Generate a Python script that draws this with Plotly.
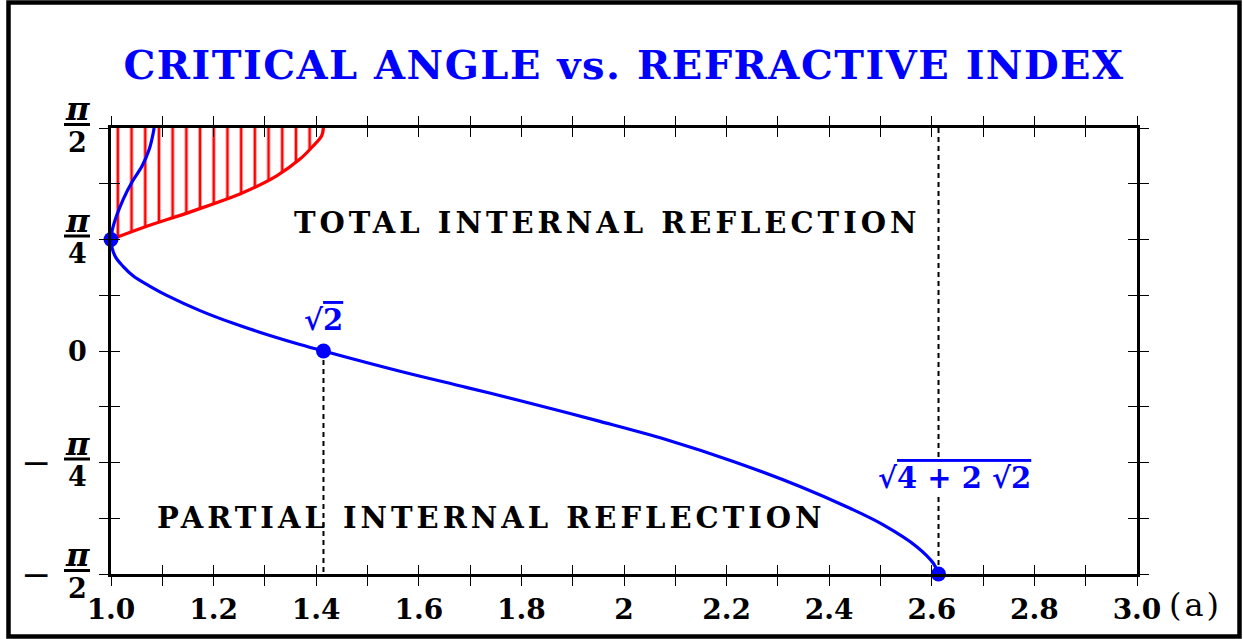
import numpy as np
import plotly.graph_objects as go

# critical angle curve (blue), from the top end downwards
blue_n = [1.084, 1.0825, 1.0747, 1.0608, 1.0404, 1.024, 1.0045, 1.0, 1.0078, 1.0240, 1.0435,
          1.0760, 1.1086, 1.1735, 1.2384, 1.3035, 1.3684, 1.4142, 1.5634, 1.6924, 1.80, 1.9532,
          2.0832, 2.2131, 2.3431, 2.4405, 2.5055, 2.5706, 2.6030, 2.6131]
blue_theta = [1.5708, 1.539, 1.4225, 1.3047, 1.1875, 1.0694, 0.8809, 0.7854, 0.669, 0.5945, 0.528,
              0.4553, 0.3918, 0.2845, 0.1948, 0.1166, 0.0459, 0.0, -0.1426, -0.2560, -0.3520, -0.4957,
              -0.6249, -0.7779, -0.9544, -1.1080, -1.2249, -1.3782, -1.4954, -1.5707]

# boundary of the hatched region (red)
red_n = [1.0, 1.063, 1.1604, 1.2579, 1.3230, 1.3684, 1.3944, 1.4107, 1.4142]
red_theta = [0.7854, 0.870, 0.987, 1.1168, 1.234, 1.3518, 1.4457, 1.5164, 1.5707]

# marked points: n = 1, sqrt(2), sqrt(4 + 2 sqrt(2))
point_n = [1.0, 1.4142, 2.6131]
point_theta = [0.7854, 0.0, -1.5707]

x_tickvals = [1.0, 1.1, 1.2, 1.3, 1.4, 1.5, 1.6, 1.7, 1.8, 1.9, 2.0,
              2.1, 2.2, 2.3, 2.4, 2.5, 2.6, 2.7, 2.8, 2.9, 3.0]
x_ticktext = ["1.0", "", "1.2", "", "1.4", "", "1.6", "", "1.8", "", "2",
              "", "2.2", "", "2.4", "", "2.6", "", "2.8", "", "3.0"]
y_tickvals = list(np.pi * np.array([-0.5, -0.375, -0.25, -0.125, 0, 0.125, 0.25, 0.375, 0.5]))

y_label_vals = list(np.pi * np.array([-0.5, -0.25, 0, 0.25, 0.5]))
y_label_num = ["π", "π", "0", "π", "π"]
y_label_den = ["2", "4", "", "4", "2"]
y_label_sign = ["−", "−", "", "", ""]

x_range = [1.0, 3.0]
y_range = [-np.pi / 2, np.pi / 2]

W, H = 1243, 639
ML, MR, MT, MB = 111, 106, 128, 65
PW, PH = W - ML - MR, H - MT - MB

SERIF = "DejaVu Serif"
BLUE = "#0000ff"
RED = "#ff0000"


def spaced(text, px):
    return f'<span style="letter-spacing:{px}px">{text}</span>'


fig = go.Figure()

# hatched total-internal-reflection region
fig.add_trace(go.Scatter(x=red_n + [red_n[0]], y=red_theta + [red_theta[-1]],
                         fill="toself", mode="lines", line=dict(width=0),
                         fillcolor="rgba(0,0,0,0)",
                         fillpattern=dict(shape="|", fgcolor=RED, fgopacity=1, bgcolor="rgba(0,0,0,0)",
                                          size=13.7, solidity=0.2),
                         hoverinfo="skip", showlegend=False))
fig.add_trace(go.Scatter(x=red_n, y=red_theta, mode="lines", line=dict(color=RED, width=3.2, shape="spline"),
                         showlegend=False))

# dashed guides
guide = dict(color="black", width=2, dash="5px,4px")
fig.add_trace(go.Scatter(x=[point_n[1], point_n[1]], y=[point_theta[1], y_range[0]], mode="lines",
                         line=guide, showlegend=False))
fig.add_trace(go.Scatter(x=[point_n[2], point_n[2]], y=[y_range[0], y_range[1]], mode="lines",
                         line=guide, showlegend=False))

fig.add_trace(go.Scatter(x=blue_n, y=blue_theta, mode="lines",
                         line=dict(color=BLUE, width=3.2, shape="spline", smoothing=1),
                         showlegend=False))
fig.add_trace(go.Scatter(x=point_n, y=point_theta, mode="markers", marker=dict(color=BLUE, size=15),
                         cliponaxis=False, showlegend=False))

# empty trace so the overlay axes (inward ticks) get drawn
fig.add_trace(go.Scatter(x=[], y=[], xaxis="x2", yaxis="y2", showlegend=False))

axis_common = dict(showgrid=False, zeroline=False, showline=True, linecolor="black", linewidth=2.5,
                   tickcolor="black", tickwidth=1, ticklen=9)

fig.update_layout(
    width=W, height=H,
    margin=dict(l=ML, r=MR, t=MT, b=MB),
    plot_bgcolor="white", paper_bgcolor="white",
    xaxis=dict(range=x_range, tickmode="array", tickvals=x_tickvals, ticktext=x_ticktext,
               ticks="outside", mirror="ticks",
               tickfont=dict(family=SERIF, size=28, color="black", weight="bold"), **axis_common),
    yaxis=dict(range=y_range, tickmode="array", tickvals=y_tickvals, showticklabels=False,
               ticks="outside", mirror="ticks", **axis_common),
    xaxis2=dict(range=x_range, overlaying="x", anchor="y2", tickmode="array", tickvals=x_tickvals,
                ticks="inside", mirror="ticks", showticklabels=False, **axis_common),
    yaxis2=dict(range=y_range, overlaying="y", anchor="x2", tickmode="array", tickvals=y_tickvals,
                ticks="inside", mirror="ticks", showticklabels=False, **axis_common),
    title=dict(text=spaced("CRITICAL ANGLE vs. REFRACTIVE INDEX", 1.5), x=0.5, xref="paper",
               y=1 - 65 / H, yanchor="middle",
               font=dict(family=SERIF, size=40, color=BLUE, weight="bold")),
    showlegend=False,
)

ann = []
lab_font = dict(family=SERIF, size=27, color="black", weight="bold")
pi_font = dict(family=SERIF, size=32, color="black", weight="bold", style="italic")
for v, num, den, sign in zip(y_label_vals, y_label_num, y_label_den, y_label_sign):
    if den:
        ann.append(dict(x=0, xref="paper", y=v, yref="y", text=num, showarrow=False,
                        xanchor="center", yanchor="middle", xshift=-34, yshift=19, font=pi_font))
        ann.append(dict(x=0, xref="paper", y=v, yref="y", text=den, showarrow=False,
                        xanchor="center", yanchor="middle", xshift=-34, yshift=-14, font=lab_font))
        fig.add_shape(type="line", xref="paper", yref="paper", xsizemode="pixel", ysizemode="pixel",
                      xanchor=0, yanchor=(v - y_range[0]) / (y_range[1] - y_range[0]),
                      x0=-47, x1=-21, y0=3.5, y1=3.5, line=dict(color="black", width=3))
    else:
        ann.append(dict(x=0, xref="paper", y=v, yref="y", text=num, showarrow=False,
                        xanchor="center", yanchor="middle", xshift=-34, font=lab_font))
    if sign:
        ann.append(dict(x=0, xref="paper", y=v, yref="y", text=sign, showarrow=False,
                        xanchor="center", yanchor="middle", xshift=-75,
                        font=dict(family=SERIF, size=36, color="black")))

region_font = dict(family=SERIF, size=29, color="black", weight="bold")
ann.append(dict(x=1.967, y=0.900, xref="x", yref="y", text=spaced("TOTAL INTERNAL REFLECTION", 4),
                showarrow=False, xanchor="center", yanchor="middle", font=region_font))
ann.append(dict(x=1.741, y=-1.1755, xref="x", yref="y", text=spaced("PARTIAL INTERNAL REFLECTION", 4),
                showarrow=False, xanchor="center", yanchor="middle", font=region_font))

mark_font = dict(family=SERIF, size=29, color=BLUE, weight="bold")
ann.append(dict(x=point_n[1], y=point_theta[1], xref="x", yref="y",
                text='√<span style="text-decoration:overline">2</span>',
                showarrow=False, xanchor="center", yanchor="middle", yshift=31, font=mark_font))
ann.append(dict(x=point_n[2], y=0, xref="x", yref="paper",
                text='√<span style="text-decoration:overline">4 + 2 √2</span>',
                showarrow=False, xanchor="center", yanchor="middle", xshift=16, yshift=96,
                bgcolor="white", borderpad=0, font=mark_font))

ann.append(dict(x=1, y=0, xref="paper", yref="paper", text=spaced("(a)", 3), showarrow=False,
                xanchor="center", yanchor="middle", xshift=58, yshift=-31,
                font=dict(family=SERIF, size=32, color="black")))
fig.update_layout(annotations=ann)

# frame around the whole picture
fig.add_shape(type="rect", xref="paper", yref="paper",
              x0=(8.5 - ML) / PW, x1=(1239.5 - ML) / PW,
              y0=(H - MB - 636.5) / PH, y1=(H - MB - 2.5) / PH,
              line=dict(color="black", width=4.5))

fig.write_html("out.html", config={"displayModeBar": False},
               post_script="document.body.style.margin = '0px';")
